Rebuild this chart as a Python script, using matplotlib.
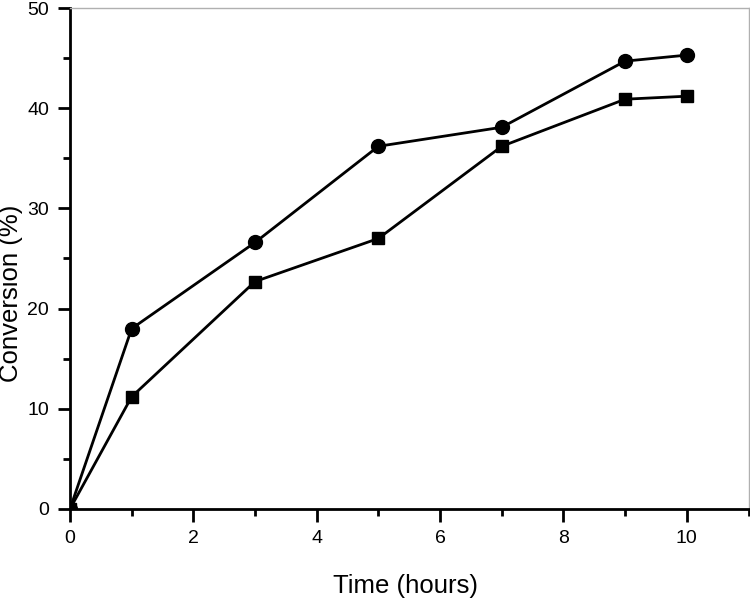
import matplotlib
matplotlib.use('Agg')
import matplotlib.pyplot as plt
from matplotlib.ticker import MultipleLocator

time_h = [0, 1, 3, 5, 7, 9, 10]
conv_circle = [0, 18.0, 26.6, 36.2, 38.1, 44.7, 45.3]
conv_square = [0, 11.2, 22.7, 27.0, 36.2, 40.9, 41.2]

plt.rcParams['font.family'] = ['Liberation Sans', 'DejaVu Sans']

fig = plt.figure(figsize=(7.5, 5.99), dpi=100)
ax = fig.add_axes([0.0933, 0.1503, 0.9047, 0.8363])

ax.plot(time_h, conv_circle, marker='o', markersize=10, color='black', lw=2)
ax.plot(time_h, conv_square, marker='s', markersize=9, color='black', lw=2)

ax.set_xlim(0, 11)
ax.set_ylim(0, 50)
ax.xaxis.set_major_locator(MultipleLocator(2))
ax.xaxis.set_minor_locator(MultipleLocator(1))
ax.yaxis.set_major_locator(MultipleLocator(10))
ax.yaxis.set_minor_locator(MultipleLocator(5))
ax.set_xticks([0, 2, 4, 6, 8, 10])

for s in ['left', 'bottom']:
    ax.spines[s].set_linewidth(2)
for s in ['top', 'right']:
    ax.spines[s].set_color('#b0b0b0')
    ax.spines[s].set_linewidth(1)

ax.tick_params(which='major', direction='out', length=9, width=2, labelsize=14, pad=6)
ax.tick_params(which='minor', direction='out', length=5, width=2)

ax.set_xlabel('Time (hours)', fontsize=18.5)
ax.set_ylabel('Conversion (%)', fontsize=18.5)
ax.xaxis.set_label_coords(0.495, -0.154)
ax.yaxis.set_label_coords(-0.087, 0.43)
ax.xaxis.label.set_va('center')
ax.yaxis.label.set_va('center')

fig.savefig('out.png', dpi=100)
